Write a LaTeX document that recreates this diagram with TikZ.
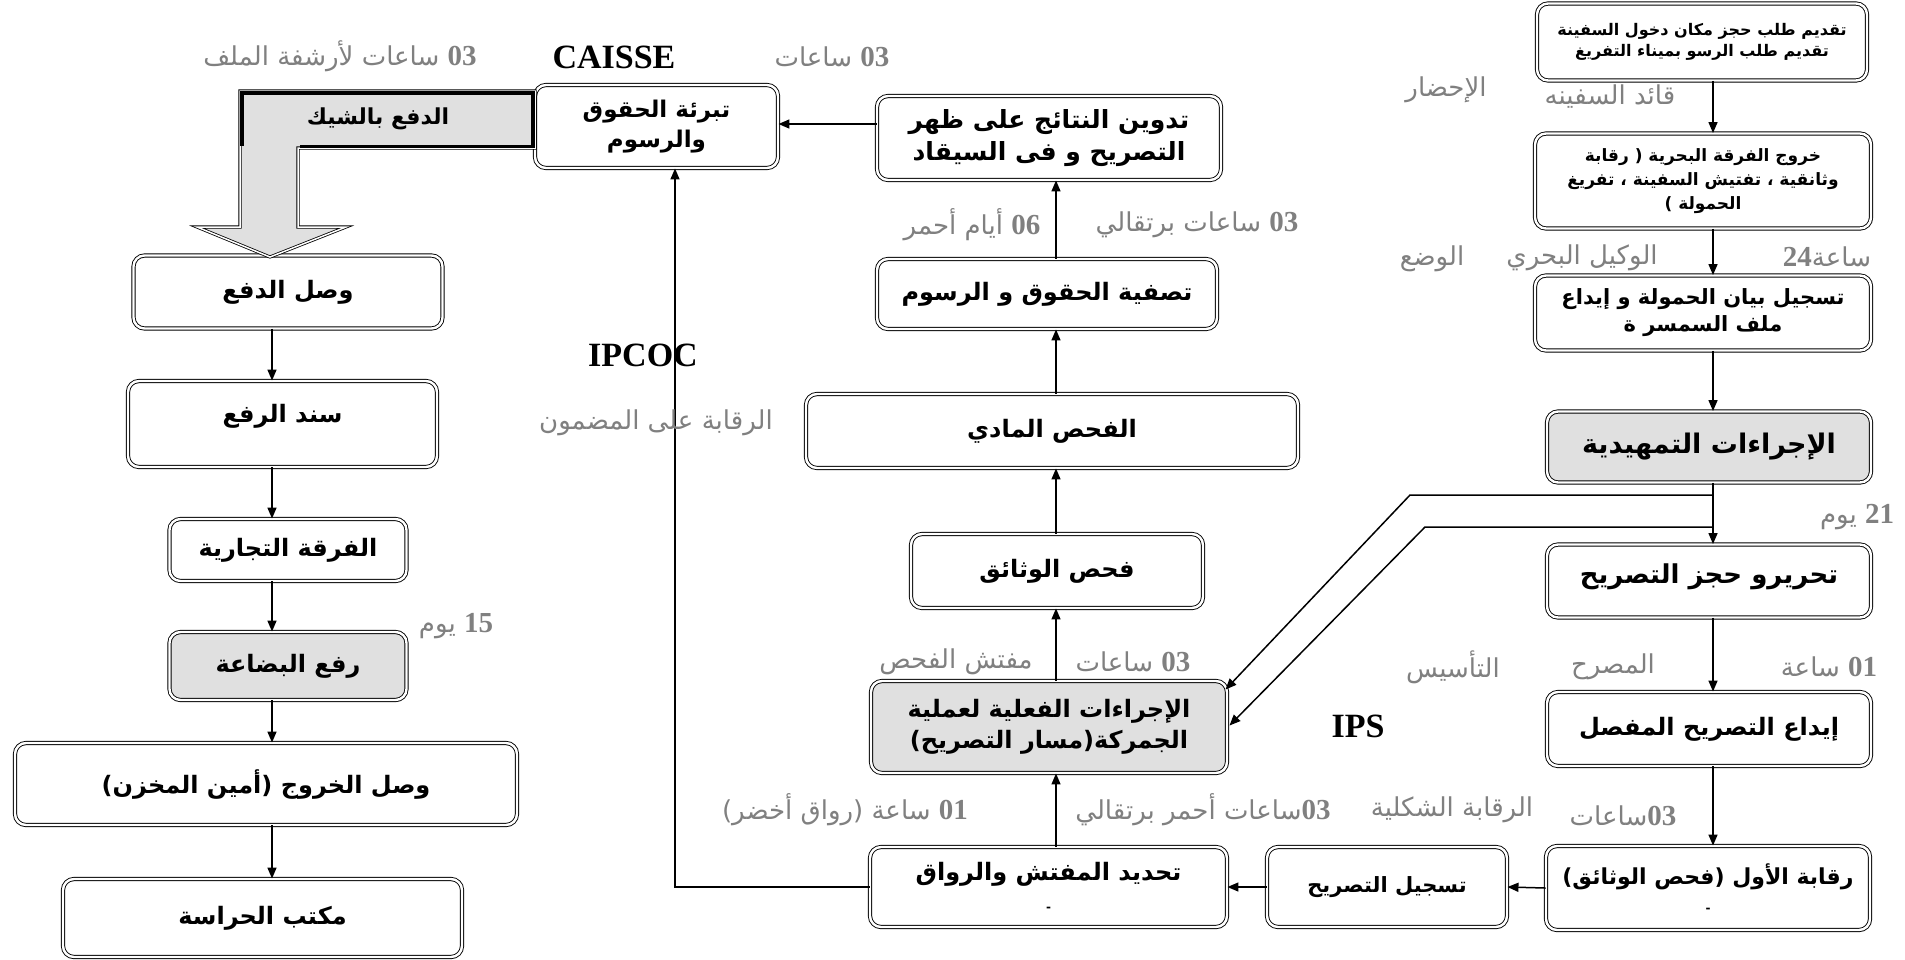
\documentclass[tikz,border=0pt]{standalone}
\usepackage{fontspec}
\usetikzlibrary{arrows.meta,calc}
\TeXXeTstate=1
\newfontfamily\myar[Script=Arabic]{DejaVu Sans}
\newfontfamily\mylat{Liberation Serif}
\newcommand{\AR}[1]{\beginR #1\endR}
\newcommand{\NM}[1]{\beginL{\mylat\bfseries\fontsize{29}{29}\selectfont #1}\endL}
\newcommand{\fs}[1]{\fontsize{#1}{#1}\selectfont}
\begin{document}
\begin{tikzpicture}[x=1pt,y=-1pt,
  bx/.style={draw=black, double=white, double distance=2.4pt, line width=0.9pt,
    rounded corners=11pt, fill=white, align=center, inner sep=1pt,
    font=\myar\bfseries\fontsize{24}{31}\selectfont},
  gbx/.style={bx, fill=black!12},
  lab/.style={font=\myar\fontsize{26}{30}\selectfont, text=black!50, inner sep=0pt},
  ttl/.style={font=\mylat\bfseries\fontsize{34}{36}\selectfont, inner sep=0pt},
  arr/.style={line width=1.5pt, -{Triangle[length=11pt,width=9pt]}},
  ln/.style={line width=1.5pt}]
\fill[white] (0,0) rectangle (1905,959);
\useasboundingbox (0,0) rectangle (1905,959);

% ---------- right column ----------
\node[bx, minimum width=330, minimum height=77, font=\myar\bfseries\fontsize{16}{21}\selectfont] (r1) at (1702,42)
  {\AR{تقديم طلب حجز مكان دخول السفينة}\\\AR{تقديم طلب الرسو بميناء التفريغ}};
\node[bx, minimum width=336, minimum height=95, font=\myar\bfseries\fontsize{17}{24}\selectfont] (r2) at (1703,181)
  {\AR{خروج الفرقة البحرية ( رقابة}\\\AR{وثانقية ، تفتيش السفينة ، تفريغ}\\\AR{الحمولة )}};
\node[bx, minimum width=336, minimum height=75, font=\myar\bfseries\fontsize{21}{27}\selectfont] (r3) at (1703,313)
  {\AR{تسجيل بيان الحمولة و إيداع}\\\AR{ملف السمسر ة}};
\node[gbx, minimum width=324, minimum height=71, font=\myar\bfseries\fontsize{27}{31}\selectfont] (r4) at (1709,447) {\AR{الإجراءات التمهيدية}};
\node[bx, minimum width=324, minimum height=73, text depth=14pt, font=\myar\bfseries\fontsize{26}{31}\selectfont] (r5) at (1709,581) {\AR{تحريرو حجز التصريح}};
\node[bx, minimum width=324, minimum height=74] (r6) at (1709,729) {\AR{إيداع التصريح المفصل}};
\node[bx, minimum width=324, minimum height=84, font=\myar\bfseries\fontsize{22}{28}\selectfont] (r7) at (1708,888)
  {\AR{رقابة الأول (فحص الوثائق)}\\{\fs{12}-}};

% ---------- bottom row ----------
\node[bx, minimum width=240, minimum height=80, font=\myar\bfseries\fontsize{21}{27}\selectfont] (b2) at (1387,887) {\AR{تسجيل التصريح}};
\node[bx, minimum width=357, minimum height=80] (b1) at (1048.5,887) {\AR{تحديد المفتش والرواق}\\{\fs{12}-}};

% ---------- middle column ----------
\node[gbx, minimum width=356, minimum height=92] (m2) at (1049,727)
  {\AR{الإجراءات الفعلية لعملية}\\\AR{الجمركة(مسار التصريح)}};
\node[bx, minimum width=292, minimum height=74] (m1) at (1057,571) {\AR{فحص الوثائق}};
\node[bx, minimum width=492, minimum height=74] (m0) at (1052,431) {\AR{الفحص المادي}};
\node[bx, minimum width=340, minimum height=70] (mm1) at (1047,294) {\AR{تصفية الحقوق و الرسوم}};
\node[bx, minimum width=344, minimum height=84, font=\myar\bfseries\fontsize{25}{32}\selectfont] (mm2) at (1049,138)
  {\AR{تدوين النتائج على ظهر}\\\AR{التصريح و فى السيقاد}};
\node[bx, minimum width=243, minimum height=83, font=\myar\bfseries\fontsize{23}{30}\selectfont] (tab) at (656.5,126.5)
  {\AR{تبرئة الحقوق}\\\AR{والرسوم}};

% ---------- left column ----------
\node[bx, minimum width=309, minimum height=73] (l1) at (288,292) {\AR{وصل الدفع}};
\node[bx, minimum width=309, minimum height=86, text depth=22pt] (l2) at (282.5,424) {\AR{سند الرفع}};
\node[bx, minimum width=237, minimum height=62] (l3) at (288,550) {\AR{الفرقة التجارية}};
\node[gbx, minimum width=237, minimum height=68] (l4) at (288,666) {\AR{رفع البضاعة}};
\node[bx, minimum width=502, minimum height=82] (l5) at (266,784) {\AR{وصل الخروج  (أمين المخزن)}};
\node[bx, minimum width=399, minimum height=78] (l6) at (262.5,918) {\AR{مكتب الحراسة}};

% ---------- block arrow ----------
\filldraw[fill=black!12, draw=black, double=white, double distance=1.5pt, line width=0.8pt]
  (535,91) -- (240,91) -- (240,227) -- (197,227) -- (270,257) -- (346,227) -- (298,227) -- (298,148) -- (535,148) -- cycle;
\draw[line width=4pt] (535,93) -- (242,93) -- (242,146);
\draw[line width=3.5pt] (300,146.5) -- (535,146.5);
\draw[line width=3.5pt] (533,93) -- (533,147);
\node[font=\myar\bfseries\fontsize{22}{26}\selectfont, inner sep=0pt] (pay) at (378,119) {\AR{الدفع بالشيك}};

% ---------- connectors ----------
\coordinate (rx) at (1713,0);
\coordinate (mx) at (1056,0);
\coordinate (lx) at (272,0);
\coordinate (tx) at (675,0);
\coordinate (ay) at (0,124);
\draw[arr] (r1.south -| rx) -- (r2.north -| rx);
\draw[arr] (r2.south -| rx) -- (r3.north -| rx);
\draw[arr] (r3.south -| rx) -- (r4.north -| rx);
\draw[arr] (r4.south -| rx) -- (r5.north -| rx);
\draw[arr] (r5.south -| rx) -- (r6.north -| rx);
\draw[arr] (r6.south -| rx) -- (r7.north -| rx);
\coordinate (j1) at (1713,495);
\coordinate (j2) at (1713,527);
\coordinate (k1) at (1410,495);
\coordinate (k2) at (1425,527);
\draw[arr] (j1) -- (k1) -- ($(m2.north east)+(-2,9)$);
\draw[arr] (j2) -- (k2) -- ($(m2.north east)+(2,45)$);
\draw[arr] (r7.west) -- (b2.east);
\draw[arr] (b2.west) -- (b1.east);
\draw[arr] (b1.west) -- (b1.west -| tx) -- (tab.south -| tx);
\draw[arr] (b1.north -| mx) -- (m2.south -| mx);
\draw[arr] (m2.north -| mx) -- (m1.south -| mx);
\draw[arr] (m1.north -| mx) -- (m0.south -| mx);
\draw[arr] (m0.north -| mx) -- (mm1.south -| mx);
\draw[arr] (mm1.north -| mx) -- (mm2.south -| mx);
\draw[arr] (mm2.west |- ay) -- (tab.east |- ay);
\draw[arr] (l1.south -| lx) -- (l2.north -| lx);
\draw[arr] (l2.south -| lx) -- (l3.north -| lx);
\draw[arr] (l3.south -| lx) -- (l4.north -| lx);
\draw[arr] (l4.south -| lx) -- (l5.north -| lx);
\draw[arr] (l5.south -| lx) -- (l6.north -| lx);

% ---------- labels ----------
\node[lab] (t1) at (340,56) {\AR{\NM{03} ساعات لأرشفة الملف}};
\node[ttl] (t2) at (614,57) {CAISSE};
\node[lab] (t3) at (832,57) {\AR{\NM{03} ساعات}};
\node[lab] (t4) at (1610,97) {\AR{قائد السفينه}};
\node[lab] (t5) at (1446,90) {\AR{الإحضار}};
\node[lab] (t6) at (972,225) {\AR{\NM{06} أيام أحمر}};
\node[lab] (t7) at (1197,225) {\AR{\NM{03} ساعات برتقالي}};
\node[lab] (t8) at (1432,259) {\AR{الوضع}};
\node[lab] (t9) at (1582,258) {\AR{الوكيل البحري}};
\node[lab] (t10) at (1827,257) {\NM{24}\AR{ساعة}};
\node[ttl] (t11) at (643,355) {IPCOC};
\node[lab] (t12) at (656,423) {\AR{الرقابة على المضمون}};
\node[lab] (t13) at (1857,517) {\AR{\NM{21} يوم}};
\node[lab] (t14) at (456,626) {\AR{\NM{15} يوم}};
\node[lab] (t15) at (956,662) {\AR{مفتش الفحص}};
\node[lab] (t16) at (1133,662) {\AR{\NM{03} ساعات}};
\node[lab] (t17) at (1453,667) {\AR{التأسيس}};
\node[lab] (t18) at (1613,667) {\AR{المصرح}};
\node[lab] (t19) at (1829,667) {\AR{\NM{01} ساعة}};
\node[ttl] (t20) at (1358,726) {IPS};
\node[lab] (t21) at (845,810) {\AR{\NM{01} ساعة (رواق أخضر)}};
\node[lab] (t22) at (1203,810) {\AR{\NM{03}ساعات أحمر برتقالي}};
\node[lab] (t23) at (1452,810) {\AR{الرقابة الشكلية}};
\node[lab] (t24) at (1623,816) {\AR{\NM{03}ساعات}};
\end{tikzpicture}
\end{document}
